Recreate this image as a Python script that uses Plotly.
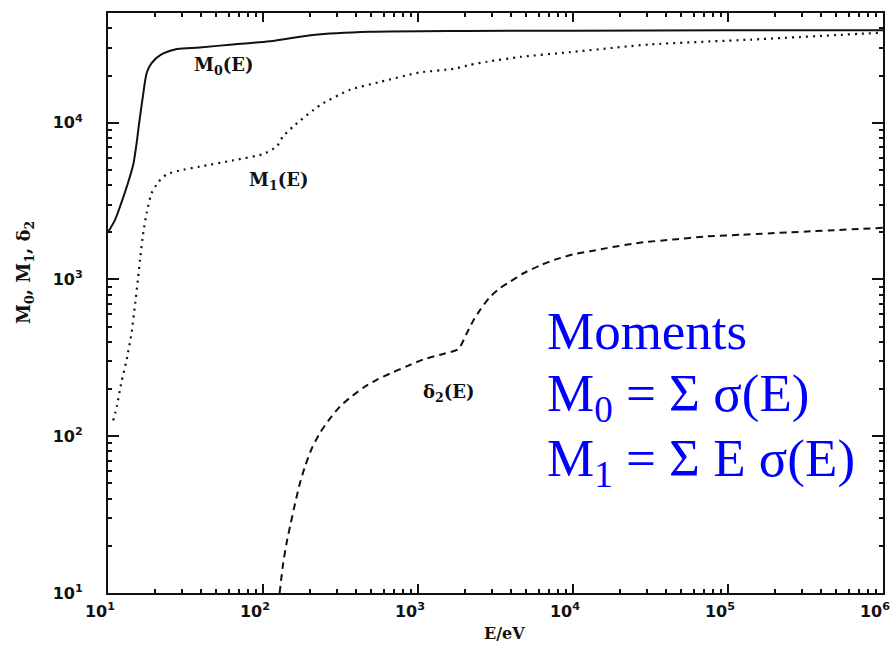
import plotly.graph_objects as go

# ---- data ----
E_M0 = [10, 11.1, 12.2, 13.5, 14.6, 15.3, 15.9, 16.8, 17.8, 19.1, 21.6, 27.9, 39, 64, 111, 210, 490, 2000, 1e4, 1e5, 1e6]
M0 = [2000, 2400, 3090, 4170, 5500, 7410, 10000, 14800, 20900, 24000, 26900, 29500, 30200, 31600, 33100, 36300, 38000, 38500, 38600, 38900, 38900]

E_M1 = [10.8, 11.4, 12.2, 13.2, 14.2, 14.9, 15.6, 16.1, 16.9, 17.8, 19.1, 21.1, 23.9, 30.6, 39, 64, 100, 123, 134, 156,
        235, 363, 569, 1020, 1700, 2160, 2790, 4570, 9600, 31600, 140000, 1000000]
M1 = [126, 155, 221, 309, 457, 676, 1000, 1350, 2000, 2690, 3550, 4170, 4680, 5010, 5250, 5750, 6310, 7080, 8130, 9440,
      13000, 16200, 18200, 20900, 22100, 23400, 24500, 26300, 28200, 31600, 33900, 37600]

E_D2 = [128, 135, 142, 151, 161, 173, 187, 206, 233, 271, 314, 364, 444, 541, 659, 845, 1081, 1387, 1820,
        2060, 2280, 2510, 2920, 3380, 3930, 4790, 6130, 7850, 10000, 12900, 16500, 27000, 44400, 72800, 120000, 1000000]
D2 = [10, 15.5, 20.9, 27.9, 37.2, 50.1, 64.6, 83.2, 105, 130, 155, 176, 204, 229, 251, 279, 309, 331, 360,
      452, 550, 638, 776, 881, 968, 1096, 1230, 1349, 1445, 1514, 1585, 1718, 1799, 1884, 1928, 2138]

x_major = [10, 100, 1000, 10000, 100000, 1000000]
x_major_text = ["10<sup>1</sup>", "10<sup>2</sup>", "10<sup>3</sup>", "10<sup>4</sup>", "10<sup>5</sup>", "10<sup>6</sup>"]
y_major = [10, 100, 1000, 10000]
y_major_text = ["10<sup>1</sup>", "10<sup>2</sup>", "10<sup>3</sup>", "10<sup>4</sup>"]
x_minor = [m * 10 ** d for d in range(1, 6) for m in range(2, 10)]
y_minor = [m * 10 ** d for d in range(1, 5) for m in range(2, 10)]

fig = go.Figure()
fig.add_trace(go.Scatter(x=E_M0, y=M0, mode="lines",
                         line=dict(color="#111", width=2, shape="spline", smoothing=0.8)))
fig.add_trace(go.Scatter(x=E_M1, y=M1, mode="lines",
                         line=dict(color="#111", width=2.2, dash="2px,5px", shape="spline", smoothing=0.6)))
fig.add_trace(go.Scatter(x=E_D2, y=D2, mode="lines",
                         line=dict(color="#111", width=2, dash="7px,5px", shape="spline", smoothing=0.6)))

tickfont = dict(family="DejaVu Sans", size=16, color="#111", weight="bold")
fig.update_xaxes(type="log", range=[1, 6], tickvals=x_major, ticktext=x_major_text,
                 ticks="inside", ticklen=9, tickwidth=1.5, tickcolor="#111",
                 showline=True, linecolor="#111", linewidth=2, mirror="ticks",
                 showgrid=False, zeroline=False, tickfont=tickfont, ticklabelstandoff=3,
                 ticklabelshift=-8, ticklabeloverflow="allow", automargin=False,
                 minor=dict(tickvals=x_minor, ticks="inside", ticklen=4, tickcolor="#111", tickwidth=1.5, showgrid=False))
fig.update_yaxes(type="log", range=[1, 4.70], tickvals=y_major, ticktext=y_major_text,
                 ticks="inside", ticklen=11, tickwidth=1.5, tickcolor="#111",
                 showline=True, linecolor="#111", linewidth=2, mirror="ticks",
                 showgrid=False, zeroline=False, tickfont=tickfont, ticklabelstandoff=20,
                 ticklabeloverflow="allow", automargin=False,
                 minor=dict(tickvals=y_minor, ticks="inside", ticklen=4, tickcolor="#111", tickwidth=1.5, showgrid=False))

L, R, T, B = 108, 12, 13, 58
W, H = 895, 651
pw, ph = W - L - R, H - T - B

def px(xp):
    return (xp - L) / pw

def py(yp):
    return (H - B - yp) / ph

lab = dict(family="DejaVu Serif", size=18, color="#111", weight="bold")
blue = dict(family="Liberation Serif", size=53, color="#0000ff")
ann = [
    dict(text="M<sub>0</sub>(E)", x=px(192), y=py(66), xanchor="left", yanchor="middle", font=lab),
    dict(text="M<sub>1</sub>(E)", x=px(247), y=py(181), xanchor="left", yanchor="middle", font=lab),
    dict(text="δ<sub>2</sub>(E)", x=px(421), y=py(393), xanchor="left", yanchor="middle", font=lab),
    dict(text="E/eV", x=px(505), y=py(633), xanchor="center", yanchor="middle",
         font=dict(family="DejaVu Serif", size=16, color="#111", weight="bold")),
    dict(text="M<sub>0</sub>, M<sub>1</sub>, δ<sub>2</sub>", x=px(25), y=py(273), xanchor="center",
         yanchor="middle", textangle=-90, font=dict(family="DejaVu Serif", size=18, color="#111", weight="bold")),
    dict(text="Moments", x=px(545), y=py(331), xanchor="left", yanchor="middle", font=blue),
    dict(text="M<sub>0</sub> = Σ σ(E)", x=px(545), y=py(397), xanchor="left", yanchor="middle", font=blue),
    dict(text="M<sub>1</sub> = Σ E σ(E)", x=px(545), y=py(462), xanchor="left", yanchor="middle", font=blue),
]
for a in ann:
    fig.add_annotation(xref="paper", yref="paper", showarrow=False, **a)

fig.update_layout(width=W, height=H, margin=dict(l=L, r=R, t=T, b=B, autoexpand=False),
                  paper_bgcolor="white", plot_bgcolor="white", showlegend=False)
fig.write_html("out.html")
